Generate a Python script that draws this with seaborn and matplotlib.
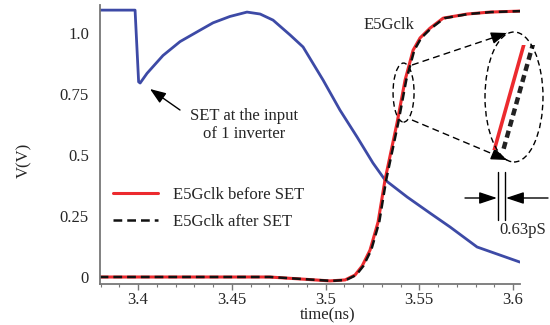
import numpy as np
import matplotlib
matplotlib.use("Agg")
import matplotlib.pyplot as plt
import seaborn as sns
from matplotlib.patches import Ellipse
from matplotlib.lines import Line2D

# output of the inverter hit by the SET (blue)
t_set = [3.3795, 3.3984, 3.4003, 3.4011, 3.4048, 3.4091, 3.4133, 3.4224, 3.4331, 3.4400,
         3.4490, 3.4581, 3.4651, 3.4720, 3.4811, 3.4880, 3.4987, 3.5077, 3.5168, 3.5253,
         3.5317, 3.5435, 3.5557, 3.5664, 3.5808, 3.6037]
v_set = [1.094, 1.094, 0.800, 0.795, 0.835, 0.872, 0.908, 0.965, 1.012, 1.042,
         1.068, 1.086, 1.078, 1.053, 0.992, 0.943, 0.807, 0.684, 0.574, 0.467,
         0.398, 0.328, 0.262, 0.205, 0.123, 0.061]

# E5Gclk before SET (red)
t_before = [3.3795, 3.4700, 3.4864, 3.5024, 3.5104, 3.5157, 3.5195, 3.5237, 3.5280, 3.5317,
            3.5381, 3.5424, 3.5467, 3.5504, 3.5557, 3.5627, 3.5755, 3.5877, 3.6037]
v_before = [0.000, 0.000, -0.008, -0.016, -0.012, 0.008, 0.045, 0.110, 0.225, 0.398,
            0.631, 0.807, 0.930, 0.980, 1.020, 1.061, 1.078, 1.086, 1.090]

# E5Gclk after SET (black dashed), 0.63 ps later
t_after = [3.3795, 3.47063, 3.48703, 3.50303, 3.51103, 3.51633, 3.52013, 3.52433, 3.52863, 3.53233,
           3.53873, 3.54303, 3.54733, 3.55103, 3.55633, 3.56333, 3.57613, 3.58833, 3.60433]
v_after = [0.000, 0.000, -0.008, -0.016, -0.012, 0.008, 0.045, 0.110, 0.225, 0.398,
           0.631, 0.807, 0.930, 0.980, 1.020, 1.061, 1.078, 1.086, 1.090]

x_ticks = [3.4, 3.45, 3.5, 3.55, 3.6]
x_labels = ["3.4", "3.45", "3.5", "3.55", "3.6"]
y_ticks = [0, 0.25, 0.5, 0.75, 1.0]
y_labels = ["0", "0.25", "0.5", "0.75", "1.0"]

sns.set_theme(style="white")
plt.rcParams['font.family'] = ['Liberation Serif', 'DejaVu Serif']
plt.rcParams['font.size'] = 12

W, H = 550, 325
fig = plt.figure(figsize=(5.5, 3.25), dpi=100)
ax = fig.add_axes([100 / W, 41 / H, 420 / W, 279 / H])


def fp(x, y):
    # pixel position in the picture -> figure fraction
    return (x / W, 1 - y / H)


blue = '#3d4aa6'
red = '#ec2a2e'

sns.lineplot(x=t_set, y=v_set, ax=ax, color=blue, lw=2.0, sort=False, estimator=None)
sns.lineplot(x=t_before, y=v_before, ax=ax, color=red, lw=2.2, sort=False, estimator=None,
             label='E5Gclk before SET')
sns.lineplot(x=t_after, y=v_after, ax=ax, color='#111111', lw=1.8, sort=False, estimator=None,
             linestyle=(0, (3.5, 2)), label='E5Gclk after SET')

ax.set_xlim(3.3797, 3.6037)
ax.set_ylim(-0.0287, 1.115)
ax.set_xticks(x_ticks)
ax.set_xticklabels(x_labels)
ax.set_xticks(np.arange(3.38, 3.605, 0.01), minor=True)
ax.set_yticks(y_ticks)
ax.set_yticklabels(y_labels)
ax.tick_params(axis='x', which='major', direction='out', length=4, width=1, color='#777777',
               bottom=True, pad=2, labelsize=12)
ax.tick_params(axis='x', which='minor', direction='out', length=2.5, width=0.8, color='#777777',
               bottom=True)
ax.tick_params(axis='y', length=0, pad=8, labelsize=12)
for s in ['top', 'right']:
    ax.spines[s].set_visible(False)
for s in ['left', 'bottom']:
    ax.spines[s].set_color('#777777')
    ax.spines[s].set_linewidth(1.3)

ax.set_xlabel('time(ns)', fontsize=12)
ax.xaxis.set_label_coords((328 - 100) / 420, (284 - 307) / 279)
ax.set_ylabel('')
fig.text(*fp(24, 160), 'V(V)', rotation=90, ha='center', va='center', fontsize=12)

handles, labels = ax.get_legend_handles_labels()
leg = ax.legend(handles, labels, loc='upper left', bbox_to_anchor=fp(113, 187),
                bbox_transform=fig.transFigure, frameon=False, borderpad=0, borderaxespad=0,
                handlelength=2.7, handletextpad=0.9, labelspacing=0.65, fontsize=12)

# labels and arrows in the plot
fig.text(*fp(389, 25), 'E5Gclk', ha='center', va='center', fontsize=12)
fig.text(*fp(244, 125), 'SET at the input\nof 1 inverter', ha='center', va='center',
         fontsize=12, linespacing=1.1)
ax.annotate('', xy=fp(150, 89), xytext=fp(180, 110), xycoords='figure fraction',
            textcoords='figure fraction',
            arrowprops=dict(arrowstyle='-|>,head_length=0.8,head_width=0.3', color='black',
                            lw=1, shrinkA=0, shrinkB=0))

# zoom of the rising edge
small = Ellipse((3.5416, 0.756), 0.0112, 0.242, fill=False, ec='black', lw=1, ls=(0, (4, 2.5)))
ax.add_patch(small)
big = Ellipse(fp(514, 97), 58 / W, 130 / H, transform=fig.transFigure, fill=False, ec='black',
              lw=1, ls=(0, (4, 2.5)))
fig.add_artist(big)
for (x0, y0), (x1, y1) in [((412, 65), (507, 33)), ((412, 120), (507, 160))]:
    fig.add_artist(Line2D([x0 / W, x1 / W], [1 - y0 / H, 1 - y1 / H], transform=fig.transFigure,
                          color='black', lw=1, ls=(0, (5, 3))))
    d = np.array([x1 - x0, y1 - y0], dtype=float)
    d /= np.hypot(*d)
    ax.annotate('', xy=fp(x1, y1), xytext=fp(x1 - 12 * d[0], y1 - 12 * d[1]),
                xycoords='figure fraction', textcoords='figure fraction',
                arrowprops=dict(arrowstyle='-|>,head_length=0.8,head_width=0.3', color='black',
                                lw=1, shrinkA=0, shrinkB=0))

ins = fig.add_axes([490 / W, 1 - 150 / H, 47 / W, 105 / H])
sns.lineplot(x=t_before, y=v_before, ax=ins, color=red, lw=2.6, sort=False, estimator=None)
sns.lineplot(x=t_after, y=v_after, ax=ins, color='#222222', lw=3.2, sort=False, estimator=None,
             linestyle=(0, (1.6, 1.0)))
vc = 0.75
tc = np.interp(vc, v_before[5:], t_before[5:]) + 0.000315
ins.set_xlim(tc - 0.001645, tc + 0.001645)
ins.set_ylim(vc - 0.0422, vc + 0.0422)
ins.axis('off')

# 0.63 ps marker
for xv in [498, 505]:
    fig.add_artist(Line2D([xv / W, xv / W], [1 - 172 / H, 1 - 220 / H], transform=fig.transFigure,
                          color='black', lw=1))
for (xa, xb) in [(465, 497), (548, 506)]:
    ax.annotate('', xy=fp(xb, 198), xytext=fp(xa, 198), xycoords='figure fraction',
                textcoords='figure fraction',
                arrowprops=dict(arrowstyle='-|>,head_length=0.9,head_width=0.3', color='black',
                                lw=1, shrinkA=0, shrinkB=0))
fig.text(*fp(499, 230), '0.63pS', ha='left', va='center', fontsize=12)

fig.savefig('out.png', dpi=100)
